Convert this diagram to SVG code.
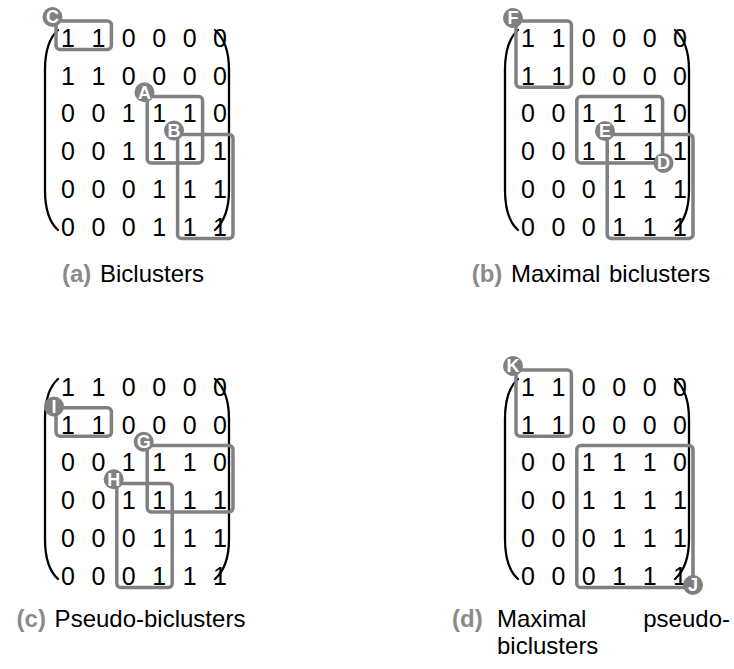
<svg xmlns="http://www.w3.org/2000/svg" xmlns:xlink="http://www.w3.org/1999/xlink" width="734" height="669" viewBox="0 0 734 669">
  <style>
    .cell { font-family: "Liberation Sans", Arial, sans-serif; font-size: 25px; fill: #000; text-anchor: middle; }
    .paren { fill: none; stroke: #000; stroke-width: 2.3; stroke-linecap: round; }
    .box { fill: none; stroke: #808080; stroke-width: 3.5; }
    .badge circle { fill: #808080; }
    .badge text { font-family: "Liberation Sans", Arial, sans-serif; font-size: 18px; font-weight: bold; fill: #fff; text-anchor: middle; }
    .cap { font-family: "Liberation Sans", Arial, sans-serif; font-size: 24px; fill: #000; word-spacing: 2px; }
    .tag { font-weight: bold; fill: #8a8a8a; }
  </style>
  <defs>
    <!-- 6x6 binary matrix with its big parentheses, shared by the four panels -->
    <g id="matrix">
      <path class="paren" d="M 58 30 C 49 38 45 52 45 70 L 45 190 C 45 208 49 222 58 230"/>
      <path class="paren" d="M 215 30 C 224 38 229 52 229 70 L 229 190 C 229 208 224 222 215 230"/>
      <text class="cell" x="68 83.2 98.4 113.6 128.8 144 159.2 174.4 189.6 204.8 220" y="46.7">1 1 0 0 0 0</text>
      <text class="cell" x="68 83.2 98.4 113.6 128.8 144 159.2 174.4 189.6 204.8 220" y="84.5">1 1 0 0 0 0</text>
      <text class="cell" x="68 83.2 98.4 113.6 128.8 144 159.2 174.4 189.6 204.8 220" y="122.3">0 0 1 1 1 0</text>
      <text class="cell" x="68 83.2 98.4 113.6 128.8 144 159.2 174.4 189.6 204.8 220" y="160.1">0 0 1 1 1 1</text>
      <text class="cell" x="68 83.2 98.4 113.6 128.8 144 159.2 174.4 189.6 204.8 220" y="197.9">0 0 0 1 1 1</text>
      <text class="cell" x="68 83.2 98.4 113.6 128.8 144 159.2 174.4 189.6 204.8 220" y="235.7">0 0 0 1 1 1</text>
    </g>
  </defs>

  <!-- (a) Biclusters -->
  <g id="panel-a">
    <use xlink:href="#matrix"/>
    <g id="bicluster-C">
      <rect class="box" x="56" y="21" width="55.4" height="28.5" rx="4"/>
      <g class="badge"><circle cx="52.5" cy="17" r="10"/><text x="52.5" y="23.4">C</text></g>
    </g>
    <g id="bicluster-A">
      <rect class="box" x="147.2" y="96.6" width="55.4" height="66.3" rx="4"/>
      <g class="badge"><circle cx="144.5" cy="92.3" r="10"/><text x="144.5" y="98.7">A</text></g>
    </g>
    <g id="bicluster-B">
      <rect class="box" x="177.6" y="134.4" width="55.4" height="104.1" rx="4"/>
      <g class="badge"><circle cx="174" cy="130.5" r="10"/><text x="174" y="136.9">B</text></g>
    </g>
    <text class="cap" x="133" y="282" text-anchor="middle"><tspan class="tag">(a)</tspan> Biclusters</text>
  </g>

  <!-- (b) Maximal biclusters -->
  <g id="panel-b" transform="translate(460,0)">
    <use xlink:href="#matrix"/>
    <g id="bicluster-F">
      <rect class="box" x="56" y="21" width="55.4" height="66.3" rx="4"/>
      <g class="badge"><circle cx="53" cy="18" r="10"/><text x="53" y="24.4">F</text></g>
    </g>
    <g id="bicluster-D">
      <rect class="box" x="116.8" y="96.6" width="85.8" height="66.3" rx="4"/>
    </g>
    <g id="bicluster-E">
      <rect class="box" x="147.2" y="134.4" width="85.8" height="104.1" rx="4"/>
      <g class="badge"><circle cx="145" cy="131" r="10"/><text x="145" y="137.4">E</text></g>
    </g>
    <g class="badge" id="badge-D"><circle cx="203.5" cy="163" r="10"/><text x="203.5" y="169.4">D</text></g>
    <text class="cap" x="131" y="282" text-anchor="middle"><tspan class="tag">(b)</tspan> Maximal biclusters</text>
  </g>

  <!-- (c) Pseudo-biclusters -->
  <g id="panel-c" transform="translate(0,349)">
    <use xlink:href="#matrix"/>
    <g id="pseudo-I">
      <rect class="box" x="56" y="58.8" width="55.4" height="28.5" rx="4"/>
      <g class="badge"><circle cx="54" cy="57.5" r="10"/><text x="54" y="63.9">I</text></g>
    </g>
    <g id="pseudo-G">
      <rect class="box" x="147.2" y="96.6" width="85.8" height="66.3" rx="4"/>
      <g class="badge"><circle cx="143.7" cy="92.7" r="10"/><text x="143.7" y="99.1">G</text></g>
    </g>
    <g id="pseudo-H">
      <rect class="box" x="116.8" y="134.4" width="55.4" height="104.1" rx="4"/>
      <g class="badge"><circle cx="113.7" cy="130.3" r="10"/><text x="113.7" y="136.7">H</text></g>
    </g>
    <text class="cap" x="131" y="278" text-anchor="middle"><tspan class="tag">(c)</tspan> Pseudo-biclusters</text>
  </g>

  <!-- (d) Maximal pseudo-biclusters -->
  <g id="panel-d" transform="translate(460,349)">
    <use xlink:href="#matrix"/>
    <g id="pseudo-K">
      <rect class="box" x="56" y="21" width="55.4" height="66.3" rx="4"/>
      <g class="badge"><circle cx="53" cy="17" r="10"/><text x="53" y="23.4">K</text></g>
    </g>
    <g id="pseudo-J">
      <rect class="box" x="116.8" y="96.6" width="116.2" height="141.9" rx="4"/>
      <g class="badge"><circle cx="233" cy="236" r="10"/><text x="233" y="242.4">J</text></g>
    </g>
    <text class="cap" x="-8" y="278"><tspan class="tag">(d)</tspan></text>
    <text class="cap" x="37" y="278">Maximal</text>
    <text class="cap" x="270" y="278" text-anchor="end">pseudo-</text>
    <text class="cap" x="37" y="305">biclusters</text>
  </g>
</svg>
